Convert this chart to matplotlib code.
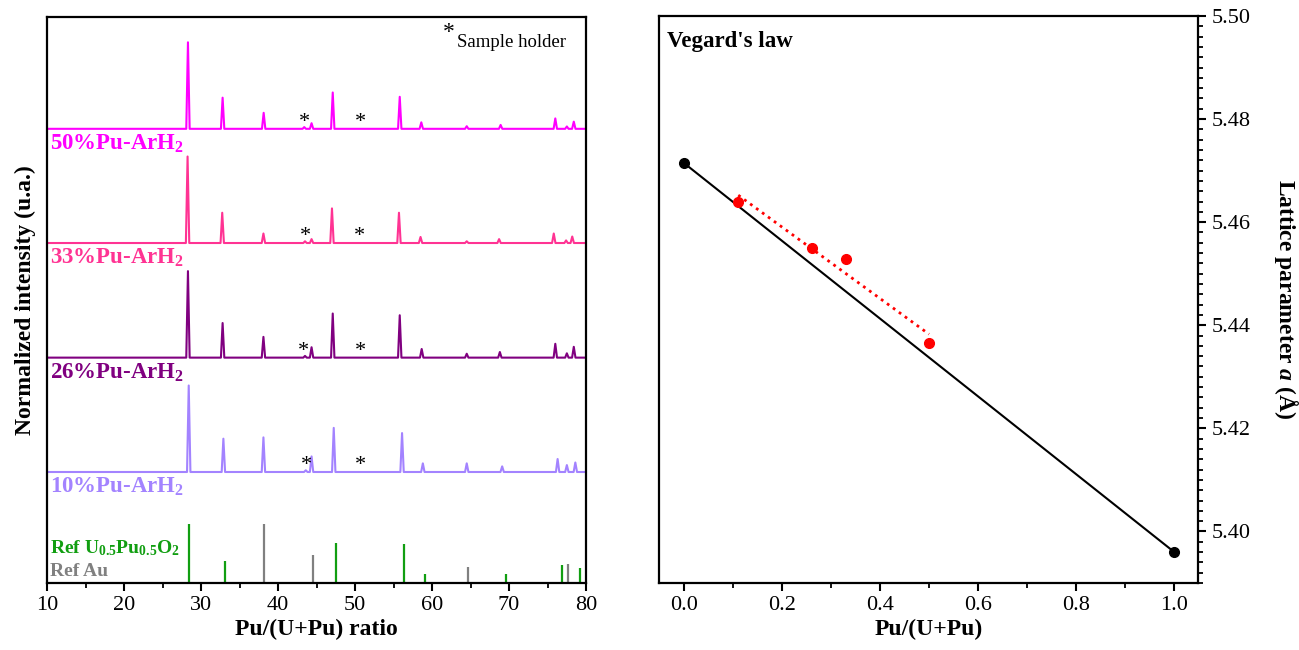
import numpy as np
import matplotlib.pyplot as plt
from matplotlib.ticker import MultipleLocator

plt.rcParams['font.family'] = ['Liberation Serif', 'DejaVu Serif']
plt.rcParams['mathtext.default'] = 'regular'
plt.rcParams['mathtext.fontset'] = 'custom'
plt.rcParams['mathtext.it'] = 'Liberation Serif:italic:bold'

# --- XRD patterns: peak positions (2theta) and normalized heights ---
pos_10 = [28.4, 32.9, 38.1, 43.6, 44.35, 47.23, 56.1, 58.8, 64.5, 69.1, 76.3, 77.5, 78.6]
int_10 = [1.0, 0.385, 0.40, 0.02, 0.18, 0.51, 0.45, 0.10, 0.10, 0.065, 0.15, 0.08, 0.11]

pos_26 = [28.3, 32.8, 38.1, 43.5, 44.35, 47.1, 55.8, 58.65, 64.5, 68.8, 76.0, 77.5, 78.4]
int_26 = [1.0, 0.40, 0.24, 0.02, 0.12, 0.51, 0.49, 0.10, 0.045, 0.065, 0.16, 0.05, 0.125]

pos_33 = [28.25, 32.75, 38.1, 43.5, 44.35, 47.0, 55.7, 58.5, 64.5, 68.7, 75.8, 77.4, 78.2]
int_33 = [1.0, 0.35, 0.11, 0.02, 0.045, 0.40, 0.35, 0.07, 0.02, 0.045, 0.11, 0.03, 0.075]

pos_50 = [28.3, 32.8, 38.13, 43.4, 44.35, 47.1, 55.8, 58.6, 64.5, 68.9, 76.0, 77.5, 78.4]
int_50 = [1.0, 0.36, 0.185, 0.02, 0.065, 0.42, 0.37, 0.075, 0.03, 0.045, 0.12, 0.027, 0.083]

sample_labels = ['10%Pu-ArH$_2$', '26%Pu-ArH$_2$', '33%Pu-ArH$_2$', '50%Pu-ArH$_2$']
sample_colors = ['#a383ff', '#800080', '#ff3393', '#ff00ff']
sample_offsets = [1.283, 2.605, 3.93, 5.25]
star_pos = [[43.7, 50.67], [43.33, 50.67], [43.57, 50.58], [43.47, 50.76]]

# reference sticks
ref_upu_pos = [28.5, 33.1, 47.5, 56.4, 59.1, 69.6, 76.9, 79.2]
ref_upu_int = [1.0, 0.38, 0.68, 0.66, 0.15, 0.15, 0.31, 0.26]
ref_au_pos = [38.2, 44.5, 64.7, 77.6]
ref_au_int = [1.0, 0.48, 0.28, 0.32]

# --- Vegard's law ---
x_ref = [0.0, 1.0]
a_ref = [5.4714, 5.3961]
x_exp = [0.11, 0.26, 0.33, 0.50]
a_exp = [5.4639, 5.4550, 5.4529, 5.4366]


def peak_line(pos, hts, w=0.22):
    xs, ys = [10.0], [0.0]
    for p, h in zip(pos, hts):
        xs += [p - w, p, p + w]
        ys += [0.0, h, 0.0]
    xs.append(80.0)
    ys.append(0.0)
    return np.array(xs), np.array(ys)


fig = plt.figure(figsize=(12.99, 6.5), dpi=100)
ax1 = fig.add_axes([0.0362, 0.1031, 0.415, 0.8708])
ax2 = fig.add_axes([0.5073, 0.1031, 0.415, 0.8723])

patterns = [(pos_10, int_10), (pos_26, int_26), (pos_33, int_33), (pos_50, int_50)]
for (pos, hts), lab, col, off, stars in zip(patterns, sample_labels, sample_colors,
                                             sample_offsets, star_pos):
    xs, ys = peak_line(pos, hts)
    ax1.plot(xs, ys + off, color=col, lw=1.5)
    ax1.text(10.4, off - 0.175, lab, color=col, fontsize=16.5, fontweight='bold',
             va='center', ha='left')
    for sx in stars:
        ax1.text(sx, off + 0.07, '*', fontsize=16, ha='center', va='center')

ax1.vlines(ref_upu_pos, 0, np.array(ref_upu_int) * 0.68, color='#119e11', lw=1.6)
ax1.vlines(ref_au_pos, 0, np.array(ref_au_int) * 0.68, color='#808080', lw=1.6)
ax1.text(10.4, 0.405, 'Ref U$_{0.5}$Pu$_{0.5}$O$_2$', color='#119e11', fontsize=14,
         fontweight='bold', va='center')
ax1.text(10.4, 0.127, 'Ref Au', color='#808080', fontsize=14, fontweight='bold',
         va='center')
ax1.text(62.2, 6.36, '*', fontsize=17, ha='center', va='center')
ax1.text(63.3, 6.25, 'Sample holder', fontsize=13.5, ha='left', va='center')

ax1.set_xlim(10, 80)
ax1.set_ylim(0, 6.543)
ax1.set_yticks([])
ax1.xaxis.set_major_locator(MultipleLocator(10))
ax1.xaxis.set_minor_locator(MultipleLocator(5))
ax1.set_xlabel('Pu/(U+Pu) ratio', fontsize=17, fontweight='bold', labelpad=3)
ax1.set_ylabel('Normalized intensity (u.a.)', fontsize=17, fontweight='bold', labelpad=8)

# Vegard panel
ax2.plot(x_ref, a_ref, color='black', lw=1.5, marker='o', ms=7)
fit = np.polyfit(x_exp, a_exp, 1)
xf = np.array([x_exp[0], x_exp[-1]])
ax2.plot(xf, np.polyval(fit, xf), color='red', lw=2, ls=':')
ax2.plot(x_exp, a_exp, 'o', color='red', ms=7)
ax2.text(0.015, 0.955, "Vegard's law", transform=ax2.transAxes, fontsize=16.5,
         fontweight='bold', va='center')

ax2.set_xlim(-0.052, 1.05)
ax2.set_ylim(5.39, 5.50)
ax2.xaxis.set_major_locator(MultipleLocator(0.2))
ax2.xaxis.set_minor_locator(MultipleLocator(0.1))
ax2.yaxis.set_major_locator(MultipleLocator(0.02))
ax2.yaxis.set_minor_locator(MultipleLocator(0.002))
ax2.xaxis.set_major_formatter(plt.FormatStrFormatter('%.1f'))
ax2.yaxis.set_major_formatter(plt.FormatStrFormatter('%.2f'))
ax2.yaxis.tick_right()
ax2.yaxis.set_label_position('right')
ax2.set_xlabel('Pu/(U+Pu)', fontsize=17, fontweight='bold', labelpad=3)
ax2.set_ylabel('Lattice parameter $\\mathit{a}$ (Å)', fontsize=17, fontweight='bold',
               rotation=-90, va='bottom', labelpad=16)

for ax in (ax1, ax2):
    for sp in ax.spines.values():
        sp.set_linewidth(1.6)
    ax.tick_params(which='major', direction='out', length=6, width=1.5, labelsize=16)
    ax.tick_params(which='minor', direction='out', length=3.5, width=1.3)
ax2.tick_params(axis='y', which='both', left=False, right=True)

fig.savefig('out.png', dpi=100)
